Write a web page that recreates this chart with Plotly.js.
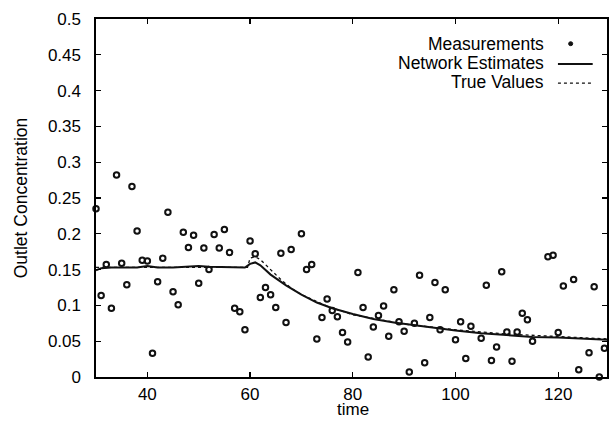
<!DOCTYPE html>
<html>
<head>
<meta charset="utf-8">
<script src="https://cdn.plot.ly/plotly-3.0.1.min.js"></script>
<style>html,body{margin:0;padding:0;background:#fff;}#chart{width:609px;height:421px;}</style>
</head>
<body>
<div id="chart"></div>
<script>
// Measurements
var measTime = [30,31,32,33,34,35,36,37,38,39,40,41,42,43,44,45,46,47,48,49,50,51,52,53,54,55,56,57,58,59,60,61,62,63,64,65,66,67,68,70,71,72,73,74,75,76,77,78,79,81,82,83,84,85,86,87,88,89,90,91,92,93,94,95,96,97,98,100,101,102,103,105,106,107,108,109,110,111,112,113,114,115,118,119,120,121,123,124,126,127,128,129];
var measValue = [0.235,0.114,0.157,0.096,0.282,0.159,0.129,0.266,0.204,0.163,0.162,0.033,0.133,0.166,0.230,0.119,0.101,0.202,0.181,0.198,0.131,0.180,0.150,0.199,0.180,0.206,0.174,0.096,0.091,0.066,0.190,0.172,0.111,0.125,0.115,0.097,0.173,0.076,0.178,0.200,0.150,0.157,0.053,0.083,0.109,0.093,0.084,0.062,0.049,0.146,0.097,0.028,0.070,0.086,0.099,0.057,0.122,0.077,0.064,0.007,0.075,0.142,0.020,0.083,0.132,0.066,0.122,0.052,0.077,0.026,0.071,0.054,0.128,0.023,0.042,0.147,0.063,0.022,0.063,0.089,0.080,0.050,0.168,0.170,0.062,0.127,0.136,0.010,0.034,0.126,0.000,0.040];

// Network estimates
var estTime = [30,31,33,35,38,40,42,45,48,50,52,54,56,59,60,61,62,64,67,70,73,76,80,84,88,92,96,100,105,110,115,120,125,130];
var estValue = [0.149,0.152,0.153,0.153,0.153,0.155,0.153,0.153,0.154,0.155,0.154,0.154,0.153,0.153,0.158,0.160,0.156,0.143,0.128,0.115,0.104,0.096,0.088,0.081,0.076,0.072,0.068,0.065,0.061,0.058,0.056,0.055,0.053,0.052];

// True values
var trueTime = [30,40,50,59.5,60,61,62,64,66,68,70,75,80,90,100,110,120,130];
var trueValue = [0.153,0.153,0.153,0.153,0.166,0.168,0.164,0.150,0.136,0.124,0.115,0.099,0.087,0.074,0.066,0.060,0.056,0.053];

// Axis ticks
var xTickVals = [40,60,80,100,120];
var yTickVals = [0,0.05,0.1,0.15,0.2,0.25,0.3,0.35,0.4,0.45,0.5];
var yTickText = ["0","0.05","0.1","0.15","0.2","0.25","0.3","0.35","0.4","0.45","0.5"];

// Legend labels and axis titles
var legendLabels = ["Measurements","Network Estimates","True Values"];
var xTitle = "time";
var yTitle = "Outlet Concentration";

var FONT = "Liberation Sans, Arial, Helvetica, sans-serif";

var traces = [
  {x: measTime, y: measValue, mode: "markers", type: "scatter", name: legendLabels[0], cliponaxis: false,
   marker: {symbol: "circle-open", size: 5.5, color: "#111", line: {width: 2, color: "#111"}}},
  {x: estTime, y: estValue, mode: "lines", type: "scatter", name: legendLabels[1],
   line: {color: "#111", width: 2}},
  {x: trueTime, y: trueValue, mode: "lines", type: "scatter", name: legendLabels[2],
   line: {color: "#111", width: 1.3, dash: "dot"}}
];

var legX = 0.8806, legY = [0.931, 0.878, 0.825];
var annotations = legendLabels.map(function(t, i){
  return {xref: "paper", yref: "paper", x: legX, y: legY[i], xanchor: "right", yanchor: "middle",
          text: t, showarrow: false, font: {family: FONT, size: 17.5, color: "#000"}};
});
annotations.push({xref: "paper", yref: "paper", x: 0.502, y: -0.1229, xanchor: "center", yanchor: "bottom",
  text: xTitle, showarrow: false, font: {family: FONT, size: 17, color: "#000"}});

var shapes = [
  {type: "circle", xref: "paper", yref: "paper", x0: 0.9249, x1: 0.9329, y0: legY[0]-0.0055, y1: legY[0]+0.0055,
   fillcolor: "#111", line: {color: "#111", width: 1}},
  {type: "line", xref: "paper", yref: "paper", x0: 0.904, x1: 0.972, y0: legY[1]-0.004, y1: legY[1]-0.004,
   line: {color: "#111", width: 2}},
  {type: "line", xref: "paper", yref: "paper", x0: 0.904, x1: 0.972, y0: legY[2]-0.004, y1: legY[2]-0.004,
   line: {color: "#111", width: 1.3, dash: "dot"}}
];

var layout = {
  width: 609, height: 421,
  margin: {l: 96, r: 2, t: 19, b: 44, pad: 0},
  paper_bgcolor: "#fff", plot_bgcolor: "#fff",
  showlegend: false,
  font: {family: FONT, size: 16, color: "#000"},
  xaxis: {
    range: [30, 129.5], tickvals: xTickVals, ticks: "inside", ticklen: 5, tickwidth: 1.2, tickcolor: "#000",
    showline: true, linecolor: "#000", linewidth: 1.6, mirror: "ticks", showgrid: false, zeroline: false,
    tickfont: {family: FONT, size: 17}, ticklabelstandoff: 1
  },
  yaxis: {
    range: [0, 0.5], tickvals: yTickVals, ticktext: yTickText, ticks: "inside", ticklen: 5, tickwidth: 1.2, tickcolor: "#000",
    showline: true, linecolor: "#000", linewidth: 1.6, mirror: "ticks", showgrid: false, zeroline: false,
    tickfont: {family: FONT, size: 17}, ticklabelstandoff: 10,
    title: {text: yTitle, font: {family: FONT, size: 17.5}, standoff: 16}
  },
  annotations: annotations,
  shapes: shapes
};

Plotly.newPlot("chart", traces, layout, {staticPlot: true, displayModeBar: false});
</script>
</body>
</html>
